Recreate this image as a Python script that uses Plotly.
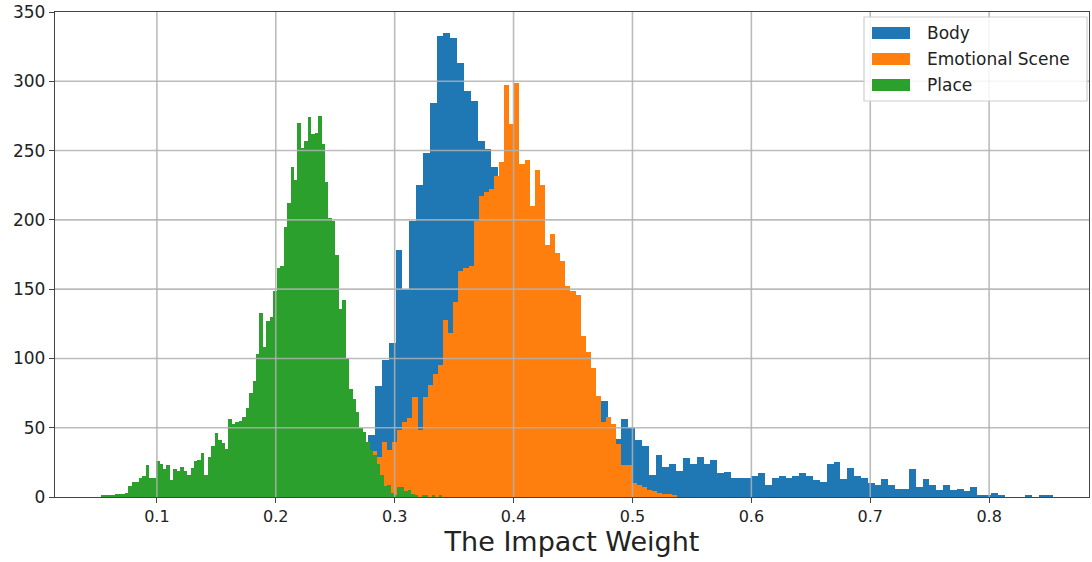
import plotly.graph_objects as go

# ---------------- data (histogram counts) ----------------
series_names = ["Body", "Emotional Scene", "Place"]

body_bin_start = 0.27773
body_bin_width = 0.005756
body_counts = [
    45, 80, 99, 111, 178, 150, 199, 225, 248, 284,
    333, 335, 331, 313, 293, 286, 257, 251, 238, 222,
    208, 195, 180, 165, 150, 137, 124, 112, 100, 90,
    82, 75, 70, 66, 69, 50, 42, 56, 50, 41,
    37, 16, 30, 22, 24, 19, 28, 24, 29, 24,
    27, 17, 18, 14, 14, 14, 15, 17, 9, 14,
    15, 14, 15, 17, 15, 12, 11, 24, 25, 13,
    21, 15, 14, 10, 9, 13, 9, 6, 6, 20,
    7, 13, 9, 5, 9, 5, 6, 4, 7, 1,
    1, 3, 1, 0, 0, 0, 1, 0, 1, 1,
]

emo_bin_start = 0.28067
emo_bin_width = 0.004286
emo_counts = [
    33, 29, 40, 34, 40, 48, 54, 57, 72, 48,
    72, 81, 89, 95, 128, 118, 141, 163, 165, 167,
    199, 217, 220, 222, 232, 242, 297, 269, 299, 240,
    243, 210, 236, 225, 182, 190, 176, 170, 152, 149,
    146, 116, 105, 93, 73, 54, 58, 53, 38, 23,
    23, 10, 9, 7, 5, 4, 3, 2, 2, 1,
]

place_bin_start = 0.05
place_bin_width = 0.0029
place_counts = [
    0, 1, 1, 1, 1, 2, 2, 2, 3, 8,
    11, 11, 14, 15, 23, 14, 14, 26, 24, 20,
    23, 12, 20, 19, 22, 19, 16, 21, 26, 27,
    32, 16, 29, 37, 46, 41, 39, 35, 56, 53,
    54, 55, 58, 64, 75, 84, 103, 133, 108, 127,
    130, 149, 165, 167, 195, 212, 238, 229, 270, 252,
    257, 274, 262, 263, 275, 255, 227, 201, 199, 175,
    136, 142, 100, 78, 71, 61, 50, 47, 40, 34,
    30, 24, 16, 8, 9, 3, 1, 7, 7, 4,
    5, 2, 1, 0, 1, 1, 0, 1, 0, 1,
]

x_tick_vals = [0.1, 0.2, 0.3, 0.4, 0.5, 0.6, 0.7, 0.8]
x_tick_text = ["0.1", "0.2", "0.3", "0.4", "0.5", "0.6", "0.7", "0.8"]
y_tick_vals = [0, 50, 100, 150, 200, 250, 300, 350]
x_title = "The Impact Weight"

colors = ["#1f77b4", "#ff7f0e", "#2ca02c"]

# ---------------- figure ----------------
W, H = 1092, 562
ML, MR, MT, MB = 55, 3, 12, 65
PW, PH = W - ML - MR, H - MT - MB


def px_x(px):
    return (px - ML) / PW


def px_y(py):
    return (H - MB - py) / PH


def centers(start, width, counts):
    return [start + width * (i + 0.5) for i in range(len(counts))]


fig = go.Figure()
for name, start, width, counts, col in [
    (series_names[0], body_bin_start, body_bin_width, body_counts, colors[0]),
    (series_names[1], emo_bin_start, emo_bin_width, emo_counts, colors[1]),
    (series_names[2], place_bin_start, place_bin_width, place_counts, colors[2]),
]:
    fig.add_trace(go.Bar(
        x=centers(start, width, counts), y=counts, width=width, name=name,
        marker=dict(color=col, line=dict(width=0)), opacity=1, showlegend=False,
    ))

grid_col = "rgba(176,176,176,0.85)"
shapes = []
for xv in x_tick_vals:
    shapes.append(dict(type="line", xref="x", yref="paper", x0=xv, x1=xv, y0=0, y1=1,
                       line=dict(color=grid_col, width=1.6), layer="above"))
for yv in y_tick_vals[1:-1]:
    shapes.append(dict(type="line", xref="paper", yref="y", x0=0, x1=1, y0=yv, y1=yv,
                       line=dict(color=grid_col, width=1.6), layer="above"))

# legend box (matplotlib style)
annotations = []
shapes.append(dict(type="rect", xref="paper", yref="paper",
                   x0=px_x(864), x1=px_x(1087), y0=px_y(101), y1=px_y(17),
                   fillcolor="rgba(255,255,255,0.85)", line=dict(color="#cfcfcf", width=1.2),
                   layer="above"))
for k, (name, col) in enumerate(zip(series_names, colors)):
    cy = 33 + 26 * k
    shapes.append(dict(type="rect", xref="paper", yref="paper",
                       x0=px_x(872), x1=px_x(910), y0=px_y(cy + 6), y1=px_y(cy - 6),
                       fillcolor=col, line=dict(width=0), layer="above"))
    annotations.append(dict(xref="paper", yref="paper", x=px_x(925), y=px_y(cy),
                            text=name, showarrow=False, xanchor="left", yanchor="middle",
                            font=dict(size=17, color="#222")))

axis_common = dict(showline=True, mirror=True, linecolor="#444", linewidth=1.3,
                   ticks="outside", ticklen=5, tickcolor="#444", tickwidth=1.2,
                   showgrid=False, zeroline=False, layer="above traces", automargin=False)

fig.update_layout(
    barmode="overlay",
    width=W, height=H,
    margin=dict(l=ML, r=MR, t=MT, b=MB),
    paper_bgcolor="white", plot_bgcolor="white",
    font=dict(family="DejaVu Sans", color="#222"),
    shapes=shapes, annotations=annotations,
    bargap=0, showlegend=False,
    xaxis=dict(range=[0.0143, 0.884], tickvals=x_tick_vals, ticktext=x_tick_text,
               tickfont=dict(size=16), title=dict(text=x_title, font=dict(size=27), standoff=6),
               **axis_common),
    yaxis=dict(range=[0, 350], tickvals=y_tick_vals, tickfont=dict(size=17), **axis_common),
)

fig.write_html("out.html", config={"displayModeBar": False},
               post_script="document.body.style.margin='0px';document.body.style.overflow='hidden';")
